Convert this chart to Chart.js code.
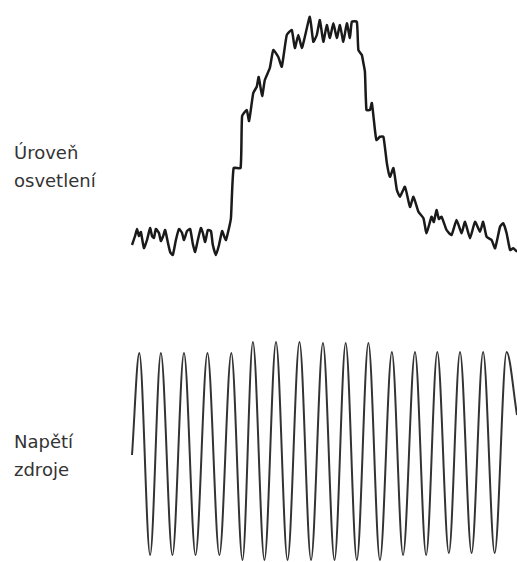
<!DOCTYPE html>
<html>
<head>
<meta charset="utf-8">
<script src="https://cdn.jsdelivr.net/npm/chart.js@4/dist/chart.umd.min.js"></script>
<style>
  html, body { margin: 0; padding: 0; background: #fff; }
  body { width: 517px; height: 562px; position: relative; overflow: hidden; }
  .label { position: absolute; left: 14px; font: 18px "DejaVu Sans", sans-serif; color: #333; line-height: 28px; }
  canvas { position: absolute; }
</style>
</head>
<body>
<div class="label" style="top:139px">Úroveň<br>osvetlení</div>
<div class="label" style="top:428px">Napětí<br>zdroje</div>
<canvas id="lightChart" width="389" height="270" style="left:128px;top:0px"></canvas>
<canvas id="supplyChart" width="389" height="232" style="left:128px;top:330px"></canvas>
<script>
// time axis 0..100 (arbitrary units), light level 0..100, supply voltage in relative units

// --- light level trace ---
const lightTime = [0, 0.8, 1.3, 1.8, 2.3, 3.1, 3.9, 4.7, 5.2, 5.7, 6.2, 7.0, 7.5, 8.1, 8.6, 9.4, 9.9, 10.6, 11.4, 12.2,
  13.0, 13.5, 14.3, 15.1, 15.8, 16.4, 17.1, 17.9, 18.4, 19.0, 19.7, 20.5, 21.0, 21.8, 22.6, 23.4, 23.9, 24.4, 25.2, 25.7,
  26.4, 28.2, 28.6, 29.8, 30.4, 31.5, 32.4, 32.9, 33.8, 34.5, 35.8, 36.7, 38.0, 38.9, 40.2, 41.5, 42.3, 43.2, 44.1,
  44.9, 46.2, 47.1, 48.0, 48.8, 49.7, 50.6, 51.4, 52.3, 53.2, 54.0, 54.9, 55.8, 56.6, 57.1, 58.4, 58.8, 59.7, 60.1, 60.5,
  60.9, 61.8, 62.3, 63.1, 63.5, 64.4, 65.3, 66.2, 67.0, 67.9, 68.8, 69.6, 70.9, 72.2, 73.1, 74.4, 75.7, 76.5, 77.8, 78.4,
  79.1, 79.7, 80.4, 81.7, 83.0, 84.3, 85.6, 86.5, 87.8, 89.1, 90.4, 91.2, 92.1, 93.4, 94.3, 95.6, 96.4, 97.3, 98.2, 99.0, 100];
const lightLevel = [6, 9.6, 12.4, 9.6, 11.2, 4.8, 8, 12.8, 9.6, 8.8, 12.4, 10.8, 7.6, 9.6, 12, 6.4, 3.2, 2, 8, 12.4,
  10.8, 8, 11.6, 12.4, 6.4, 3.2, 8, 12.8, 10.8, 7.2, 12, 11.6, 6, 2, 6, 11.6, 9.6, 8, 12.8, 16.8,
  36.8, 36.8, 57.6, 60, 55.6, 66.8, 69.3, 73.2, 65.6, 72, 76.8, 84, 81.2, 77.3, 90, 92, 84.8, 90, 84.8,
  89.3, 97.3, 87.3, 90, 96, 87.3, 94, 88.8, 94.7, 88.8, 94, 87.3, 94.7, 88.8, 95.3, 95.3, 84, 82, 78.8, 75.3,
  60, 60, 62.8, 52, 48, 49.3, 49.3, 38.7, 33.3, 36.8, 28, 25.3, 29.3, 21.2, 25.3, 19.3, 16.7, 10.7, 17.3, 15.2,
  20, 16.4, 17.3, 12, 10, 16, 10.7, 15.3, 8.7, 15.3, 11.3, 15.3, 9.3, 8, 4.7, 13.3, 14.7, 10.7, 4, 4.7, 3.3];

// --- supply voltage: peaks and troughs ---
const supplyTime = [0, 1.9, 4.7, 7.5, 10.5, 13.5, 16.5, 19.6, 22.7, 25.8, 28.7, 31.4, 34.4, 37.4, 40.4, 43.5, 46.5,
  49.6, 52.6, 55.5, 58.4, 61.4, 64.4, 67.5, 70.4, 73.5, 76.4, 79.3, 82.3, 85.2, 88.2, 91.2, 94.2, 97.3, 100];
const supplyVoltage = [0, 1.02, -1.0, 1.02, -1.0, 1.02, -1.0, 1.02, -1.0, 1.02, -1.05, 1.13, -1.05, 1.13, -1.05, 1.13, -1.05,
  1.12, -1.05, 1.12, -1.05, 1.12, -1.05, 1.03, -1.0, 1.03, -1.0, 1.03, -0.98, 1.03, -0.98, 1.03, -0.98, 1.03, 0.4];

const toPoints = (xs, ys) => xs.map((x, i) => ({ x, y: ys[i] }));

function traceChart(canvasId, points, yMin, yMax, opts) {
  return new Chart(document.getElementById(canvasId), {
    type: "line",
    data: {
      datasets: [Object.assign({
        data: points,
        borderColor: "#222",
        borderWidth: 2,
        pointRadius: 0,
        fill: false,
        clip: false
      }, opts)]
    },
    options: {
      responsive: false,
      animation: false,
      devicePixelRatio: 1,
      layout: { padding: 0 },
      plugins: { legend: { display: false }, tooltip: { enabled: false } },
      scales: {
        x: { type: "linear", min: -1.04, max: 100, display: false },
        y: { min: yMin, max: yMax, display: false }
      }
    }
  });
}

traceChart("lightChart", toPoints(lightTime, lightLevel), -4, 104,
  { tension: 0.15, borderWidth: 2.5, borderColor: "#1a1a1a" });
traceChart("supplyChart", toPoints(supplyTime, supplyVoltage), -1.07, 1.25,
  { cubicInterpolationMode: "monotone", borderColor: "#333" });
</script>
</body>
</html>
